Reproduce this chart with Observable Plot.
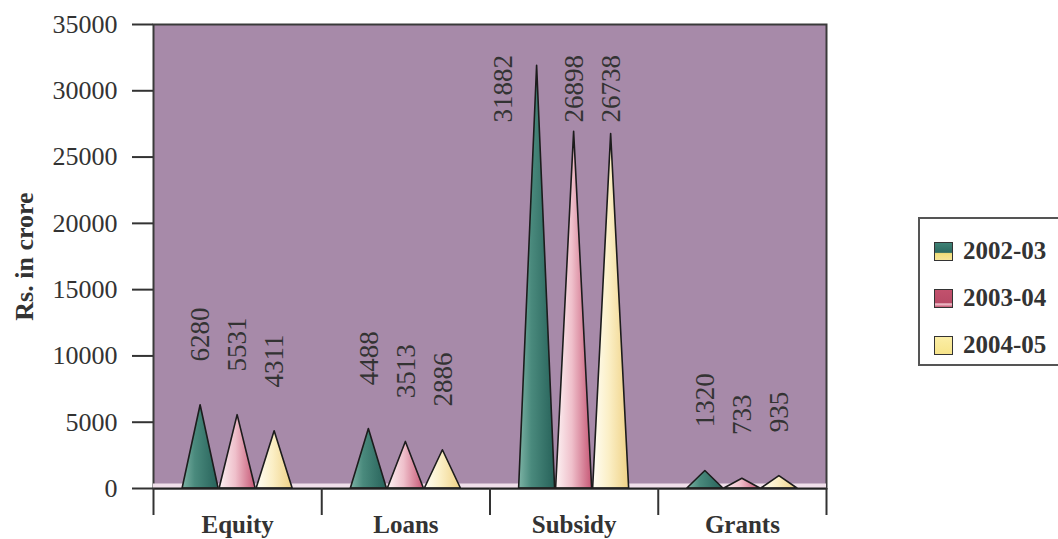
<!DOCTYPE html>
<html>
<head>
<meta charset="utf-8">
<script src="https://cdn.jsdelivr.net/npm/d3@7"></script>
<script src="https://cdn.jsdelivr.net/npm/@observablehq/plot@0.6"></script>
<style>
  html, body { margin: 0; padding: 0; background: #fff; overflow: hidden; }
  #wrap { position: relative; width: 1058px; height: 539px; font-family: "Liberation Serif", serif; }
  #legend { position: absolute; left: 918px; top: 217px; width: 170px; height: 149px;
            border: 2px solid #555; box-sizing: border-box; background: #fff; }
  .item { position: absolute; left: 14px; height: 26px; display: flex; align-items: center;
          font-weight: bold; font-size: 25px; color: #333; }
  .sw { width: 19px; height: 19px; border: 1.5px solid #333; margin-right: 10px; box-sizing: border-box; }
</style>
</head>
<body>
<div id="wrap"><div id="chart"></div><div id="legend"></div></div>
<script>
const categories = ["Equity", "Loans", "Subsidy", "Grants"];
const years = ["2002-03", "2003-04", "2004-05"];
const values2002 = [6280, 4488, 31882, 1320];
const values2003 = [5531, 3513, 26898, 733];
const values2004 = [4311, 2886, 26738, 935];
const yTicks = [0, 5000, 10000, 15000, 20000, 25000, 30000, 35000];

const seriesValues = [values2002, values2003, values2004];
const gradients = [
  [["0%", "#7db3a5"], ["35%", "#4a8a7d"], ["100%", "#27625a"]],
  [["0%", "#fdf3f4"], ["45%", "#efc0cb"], ["100%", "#c65775"]],
  [["0%", "#fffef5"], ["45%", "#fbefc6"], ["100%", "#efd185"]]
];
const legendSwatches = [
  "linear-gradient(to bottom, #3f8276 0%, #2d6a60 55%, #f2de7a 62%, #f5e597 100%)",
  "linear-gradient(to bottom, #c2516d 0%, #b84a66 75%, #f2c9d2 82%, #c2516d 100%)",
  "linear-gradient(to bottom, #fbeea6 0%, #f7e48a 100%)"
];

const step = 0.22, half = 0.107;
const cones = seriesValues.map((vals, j) =>
  vals.flatMap((v, i) => {
    const c = i + (j - 1) * step;
    const k = `${j}-${i}`;
    return [{x: c - half, y: 0, k}, {x: c, y: v, k}, {x: c + half, y: 0, k}];
  })
);
const labels = seriesValues.flatMap((vals, j) =>
  vals.map((v, i) => ({
    x: i + (j - 1) * step - (v > 30000 ? 0.2 : 0),
    y: Math.min(v + 3300, 27600),
    text: String(v)
  }))
);

const defs = () => {
  const d = d3.create("svg:defs");
  gradients.forEach((stops, j) => {
    const g = d.append("linearGradient").attr("id", "cone" + j)
      .attr("x1", "0").attr("x2", "1").attr("y1", "0").attr("y2", "0");
    stops.forEach(([o, c]) => g.append("stop").attr("offset", o).attr("stop-color", c));
  });
  return d.node();
};

const chart = Plot.plot({
  width: 1058,
  height: 539,
  marginLeft: 153,
  marginRight: 232,
  marginTop: 24,
  marginBottom: 51,
  style: {fontFamily: "Liberation Serif, serif", fontSize: "25px", color: "#333", background: "transparent"},
  x: {domain: [-0.5, 3.5], label: null},
  y: {domain: [0, 35000], label: null},
  marks: [
    defs,
    Plot.frame({fill: "#a78aa9", stroke: "#3a3a3a", strokeWidth: 2}),
    Plot.ruleY([0], {stroke: "#f0dfea", strokeWidth: 5, dy: -2.5}),
    ...cones.map((pts, j) => Plot.areaY(pts, {
      x: "x", y: "y", z: "k", fill: `url(#cone${j})`, stroke: "#1c1c1c", strokeWidth: 1.6
    })),
    Plot.ruleY([0], {stroke: "#222", strokeWidth: 2}),
    Plot.text(labels, {
      x: "x", y: "y", text: "text", rotate: -90, textAnchor: "start",
      fontSize: 27, fill: "#333"
    }),
    Plot.axisY({ticks: yTicks, tickFormat: d => String(d), tickSize: 21, tickPadding: 15,
      fontSize: 26, strokeWidth: 2, stroke: "#333", label: null}),
    Plot.axisX({ticks: [-0.5, 0.5, 1.5, 2.5, 3.5], tickFormat: () => "", tickSize: 27,
      strokeWidth: 2, stroke: "#333", label: null}),
    Plot.axisX({ticks: [0, 1, 2, 3], tickFormat: i => categories[i], tickSize: 0, tickPadding: 27,
      fontSize: 25, fontWeight: "bold", label: null}),
    Plot.text(["Rs. in crore"], {frameAnchor: "left", dx: -129, rotate: -90, textAnchor: "middle",
      fontSize: 26, fontWeight: "bold", fill: "#333"})
  ]
});
document.getElementById("chart").appendChild(chart);

const legend = document.getElementById("legend");
years.forEach((y, j) => {
  const item = document.createElement("div");
  item.className = "item";
  item.style.top = (32 + j * 47 - 13) + "px";
  const sw = document.createElement("div");
  sw.className = "sw";
  sw.style.background = legendSwatches[j];
  const t = document.createElement("span");
  t.textContent = y;
  item.appendChild(sw);
  item.appendChild(t);
  legend.appendChild(item);
});
</script>
</body>
</html>
